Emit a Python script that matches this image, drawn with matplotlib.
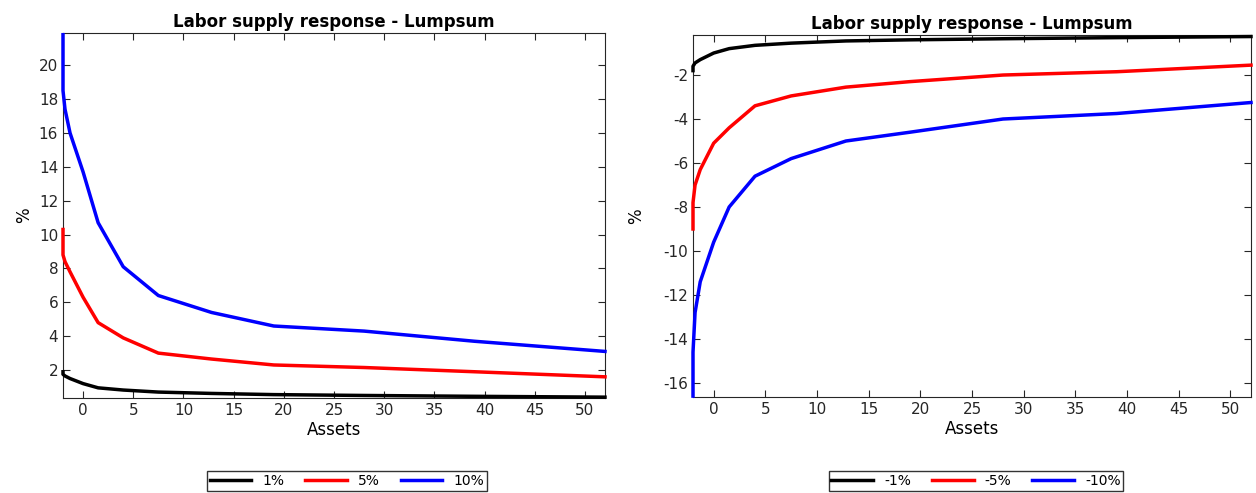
import matplotlib
matplotlib.use("Agg")
import matplotlib.pyplot as plt
plt.rcParams["axes.unicode_minus"] = False

assets = [-2, -2, -1.8, -1.3, 0, 1.5, 4, 7.5, 12.8, 19, 28, 39, 52]
pos_labels = ["1%", "5%", "10%"]
pos_black = [1.9, 1.75, 1.65, 1.5, 1.2, 0.95, 0.82, 0.7, 0.62, 0.55, 0.5, 0.45, 0.4]
pos_red = [10.3, 8.8, 8.4, 7.8, 6.3, 4.8, 3.9, 3.0, 2.65, 2.3, 2.15, 1.9, 1.6]
pos_blue = [21.8, 18.5, 17.4, 16.0, 13.7, 10.7, 8.1, 6.4, 5.4, 4.6, 4.3, 3.7, 3.1]
neg_labels = ["-1%", "-5%", "-10%"]
neg_black = [-1.8, -1.6, -1.45, -1.3, -1.0, -0.8, -0.65, -0.55, -0.45, -0.4, -0.35, -0.3, -0.25]
neg_red = [-9.0, -7.8, -7.0, -6.3, -5.1, -4.4, -3.4, -2.95, -2.55, -2.3, -2.0, -1.85, -1.55]
neg_blue = [-16.6, -14.6, -12.8, -11.4, -9.6, -8.0, -6.6, -5.8, -5.0, -4.6, -4.0, -3.75, -3.25]

W, H = 1256, 493
fig = plt.figure(figsize=(W/100, H/100), dpi=100)
colors = ["black", "red", "blue"]

def setup(ax, ylim, yticks, labels, series, legx):
    for s, c, l in zip(series, colors, labels):
        ax.plot(assets, s, color=c, lw=2.5, label=l, clip_on=False, zorder=3)
    ax.set_xlim(-2, 52)
    ax.set_ylim(*ylim)
    ax.set_xticks(range(0, 55, 5))
    ax.set_yticks(yticks)
    ax.tick_params(direction="in", top=True, right=True, labelsize=11, colors="#262626", length=5)
    for sp in ax.spines.values():
        sp.set_color("#262626")
        sp.set_zorder(1)
    ax.set_title("Labor supply response - Lumpsum", fontsize=12, fontweight="bold", pad=4)
    ax.set_xlabel("Assets", fontsize=12, labelpad=2)
    ax.set_ylabel("%", fontsize=12)
    fig.legend(*ax.get_legend_handles_labels(), loc="center", bbox_to_anchor=(legx, 1-481/H),
               ncol=3, fontsize=10, frameon=True, fancybox=False, edgecolor="black",
               handlelength=3, borderpad=0.2, columnspacing=1.5)

ax1 = fig.add_axes([63/W, 1-398/H, (605-63)/W, (398-33)/H])
setup(ax1, (0.35, 21.9), range(2, 22, 2), pos_labels, [pos_black, pos_red, pos_blue], 347/W)
ax2 = fig.add_axes([693/W, 1-397/H, (1251-693)/W, (397-35)/H])
setup(ax2, (-16.64, -0.18), range(-16, 0, 2), neg_labels, [neg_black, neg_red, neg_blue], 976/W)
ax2.yaxis.set_label_coords(-0.085, 0.5)
fig.savefig("out.png", dpi=100)
